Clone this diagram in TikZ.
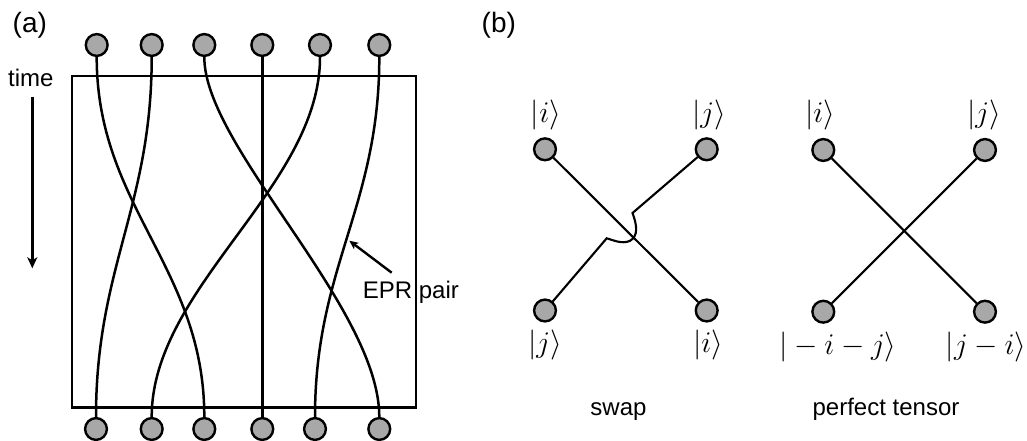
\RequirePackage{fix-cm}
\documentclass[tikz,border=0pt]{standalone}
\usepackage[no-math]{fontspec}
\setmainfont{Liberation Sans}
\usetikzlibrary{arrows.meta,calc}
\definecolor{nodegray}{RGB}{168,168,168}
\tikzset{
  dot/.style={circle,draw=black,fill=nodegray,minimum size=21.8pt,inner sep=0pt,line width=2.4pt},
  strand/.style={line width=2.5pt,black},
  wire/.style={line width=2.1pt,black},
  lbl/.style={inner sep=0pt,font=\fontsize{24}{28}\selectfont},
  panel/.style={inner sep=0pt,font=\fontsize{28}{32}\selectfont},
  ket/.style={inner sep=0pt,font=\fontsize{30}{34}\selectfont},
  tarr/.style={line width=2.4pt,-{Stealth[length=11pt,width=10pt,inset=3pt]}},
  earr/.style={line width=2.4pt,-{Stealth[length=9pt,width=8pt,inset=2.5pt]}}
}
\begin{document}
\begin{tikzpicture}[x=1pt,y=-1pt]
\useasboundingbox (0,0) rectangle (1027,440);
% ---------- panel (a)
\node[panel,anchor=base west] (la) at (12.5,32.8) {(a)};
\node[lbl,anchor=base] (time) at (30.8,86) {time};
\coordinate (ttop) at (32.3,96.7);
\coordinate (tbot) at (32.3,268.3);
\draw[tarr] (ttop) -- (tbot);
\draw[line width=2.5pt] (72,76) rectangle (416,407.7);
% top qubits
\node[dot] (t1) at (96.7,45) {};
\node[dot] (t2) at (151.7,45) {};
\node[dot] (t3) at (204.3,45) {};
\node[dot] (t4) at (262.3,45) {};
\node[dot] (t5) at (320,45) {};
\node[dot] (t6) at (379.3,45) {};
% bottom qubits
\node[dot] (b1) at (96,429) {};
\node[dot] (b2) at (151.7,429) {};
\node[dot] (b3) at (204.3,429) {};
\node[dot] (b4) at (262.3,429) {};
\node[dot] (b5) at (315,429) {};
\node[dot] (b6) at (379.3,429) {};
% strands
\draw[strand] (t1.south) .. controls ($(t1.south)+(0,150)$) and ($(b3.north)+(0,-150)$) .. (b3.north);
\draw[strand] (t2.south) .. controls ($(t2.south)+(0,150)$) and ($(b1.north)+(0,-150)$) .. (b1.north);
\draw[strand] (t3.south) .. controls ($(t3.south)+(0,90)$) and ($(b6.north)+(0,-110)$) .. (b6.north);
\draw[strand] (t4.south) -- (b4.north);
\draw[strand] (t5.south) .. controls ($(t5.south)+(0,130)$) and ($(b2.north)+(0,-130)$) .. (b2.north);
\draw[strand] (t6.south) .. controls ($(t6.south)+(0,150)$) and ($(b5.north)+(0,-150)$) .. (b5.north);
% EPR label
\node[lbl,anchor=base west] (epr) at (362.7,298.3) {EPR pair};
\coordinate (eprtail) at (391.7,272.7);
\coordinate (eprtip) at (349.3,240.7);
\draw[earr] (eprtail) -- (eprtip);
% ---------- panel (b)
\node[panel,anchor=base west] (lb) at (481.5,32.8) {(b)};
% swap
\node[dot] (sTL) at (545,149.3) {};
\node[dot] (sTR) at (706.7,149.3) {};
\node[dot] (sBL) at (545,310.5) {};
\node[dot] (sBR) at (706.7,310.5) {};
\node[ket] (ksTL) at (546,115) {$|i\rangle$};
\node[ket] (ksTR) at (709,115) {$|j\rangle$};
\node[ket] (ksBL) at (545,345) {$|j\rangle$};
\node[ket] (ksBR) at (708,345) {$|i\rangle$};
\coordinate (w1) at (632.5,213);
\coordinate (w2) at (606.7,238.3);
\draw[wire] (sTL) -- (sBR);
\draw[wire] (sTR) -- (w1) .. controls (637,225) and (638.5,236) .. (630,240.8) .. controls (622,244.5) and (613,240) .. (w2) -- (sBL);
\node[lbl,anchor=base] (swap) at (618.5,415) {swap};
% perfect tensor
\node[dot] (pTL) at (823.3,150) {};
\node[dot] (pTR) at (985,150) {};
\node[dot] (pBL) at (823.3,311.7) {};
\node[dot] (pBR) at (985,311.7) {};
\node[ket] (kpTL) at (820,115) {$|i\rangle$};
\node[ket] (kpTR) at (984,115) {$|j\rangle$};
\node[ket] (kpBL) at (838,346.5) {$|-i-j\rangle$};
\node[ket] (kpBR) at (986,346.5) {$|j-i\rangle$};
\draw[wire] (pTL) -- (pBR);
\draw[wire] (pTR) -- (pBL);
\node[lbl,anchor=base] (pt) at (886,415) {perfect tensor};
\end{tikzpicture}
\end{document}
